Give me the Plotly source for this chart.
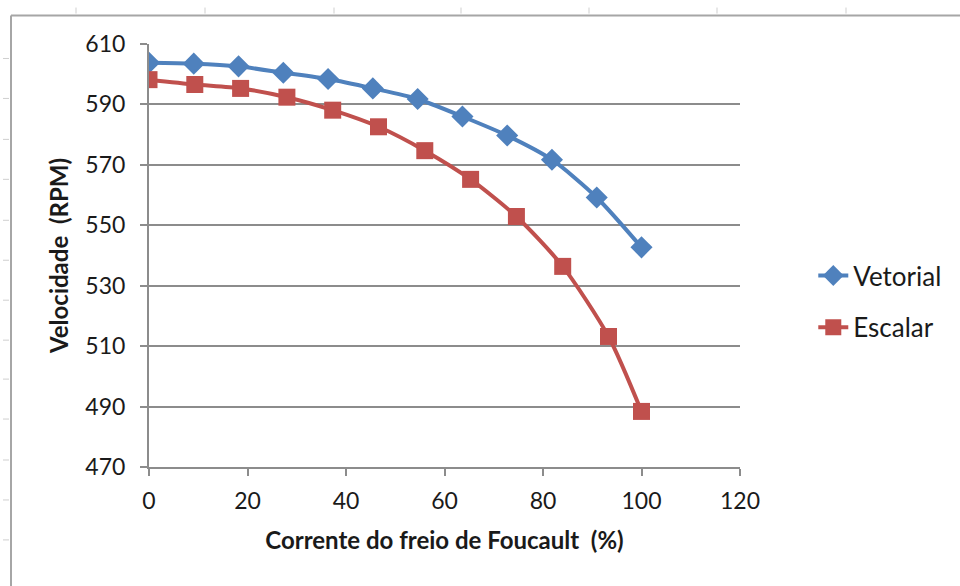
import plotly.graph_objects as go

# Brake current (%) and motor speed (RPM) for each control strategy
corrente_vetorial = [0, 9.09, 18.18, 27.27, 36.36, 45.45, 54.55, 63.64, 72.73, 81.82, 90.91, 100]
velocidade_vetorial = [603.8, 603.5, 602.6, 600.5, 598.4, 595.3, 591.8, 586.0, 579.7, 571.7, 559.2, 542.7]

corrente_escalar = [0, 9.3, 18.6, 28.0, 37.3, 46.6, 56.0, 65.3, 74.6, 84.0, 93.3, 100]
velocidade_escalar = [598.2, 596.6, 595.3, 592.4, 588.1, 582.6, 574.7, 565.2, 552.9, 536.4, 513.2, 488.4]

x_ticks = [0, 20, 40, 60, 80, 100, 120]
y_ticks = [470, 490, 510, 530, 550, 570, 590, 610]

FONT = "Lato"
TXT = "#1a1a1a"
GRID = "#8c8c8c"

fig = go.Figure()
fig.add_trace(go.Scatter(
    x=corrente_vetorial, y=velocidade_vetorial, name="Vetorial",
    mode="lines+markers", legendgroup="v",
    line=dict(color="#4F81BD", width=4, shape="spline", smoothing=0.7),
    marker=dict(symbol="diamond", size=17, color="#4F81BD"),
))
fig.add_trace(go.Scatter(
    x=corrente_escalar, y=velocidade_escalar, name="Escalar",
    mode="lines+markers", legendgroup="e",
    line=dict(color="#C0504D", width=4, shape="spline", smoothing=0.7),
    marker=dict(symbol="square", size=17, color="#C0504D"),
))

# Worksheet grid remnants around the chart frame
shapes = [
    dict(type="line", xref="paper", yref="paper",
         x0=(11 - 149) / 591, x1=(962 - 149) / 591,
         y0=(467 - 15) / 423.5, y1=(467 - 15) / 423.5,
         line=dict(color="#a6a6a6", width=2)),
    dict(type="line", xref="paper", yref="paper",
         x0=(11 - 149) / 591, x1=(11 - 149) / 591,
         y0=(467 - 15) / 423.5, y1=(467 - 590) / 423.5,
         line=dict(color="#a6a6a6", width=2)),
]
for px in [76, 205, 334, 461, 589, 717, 846]:
    shapes.append(dict(type="line", xref="paper", yref="paper",
                       x0=(px - 149) / 591, x1=(px - 149) / 591,
                       y0=(467 - 7) / 423.5, y1=(467 - 13) / 423.5,
                       line=dict(color="#cfcfcf", width=1)))
for py in [58, 98, 139, 179, 220, 260, 300, 340, 379, 419, 460, 500, 540]:
    shapes.append(dict(type="line", xref="paper", yref="paper",
                       x0=(3 - 149) / 591, x1=(9 - 149) / 591,
                       y0=(467 - py) / 423.5, y1=(467 - py) / 423.5,
                       line=dict(color="#cfcfcf", width=1)))

fig.update_layout(
    width=960, height=586,
    margin=dict(l=149, r=220, t=43.5, b=119),
    paper_bgcolor="white", plot_bgcolor="white",
    font=dict(family=FONT, size=20, color=TXT),
    shapes=shapes,
    legend=dict(x=1.124, y=0.391, xanchor="left", yanchor="middle",
                font=dict(family=FONT, size=26, color=TXT),
                tracegroupgap=15, traceorder="grouped",
                bgcolor="rgba(0,0,0,0)"),
    xaxis=dict(
        range=[0, 120], tickvals=x_ticks, ticktext=[str(v) for v in x_ticks],
        showgrid=False, zeroline=False,
        showline=True, linecolor=GRID, linewidth=2,
        ticks="outside", ticklen=7, tickwidth=2, tickcolor=GRID,
        ticklabelstandoff=5,
        tickfont=dict(family=FONT, size=23, color=TXT),
        title=dict(text="<b>Corrente do freio de Foucault \u00a0(%)</b>",
                   font=dict(family=FONT, size=24, color=TXT), standoff=20),
    ),
    yaxis=dict(
        range=[470, 610], tickvals=y_ticks, ticktext=[str(v) for v in y_ticks],
        showgrid=True, gridcolor=GRID, gridwidth=2, zeroline=False,
        showline=True, linecolor=GRID, linewidth=2,
        ticks="outside", ticklen=7, tickwidth=2, tickcolor=GRID,
        ticklabelstandoff=10,
        tickfont=dict(family=FONT, size=23, color=TXT),
        title=dict(text="<b>Velocidade \u00a0(RPM)</b>",
                   font=dict(family=FONT, size=24, color=TXT), standoff=10),
    ),
)

fig.write_html("out.html")
